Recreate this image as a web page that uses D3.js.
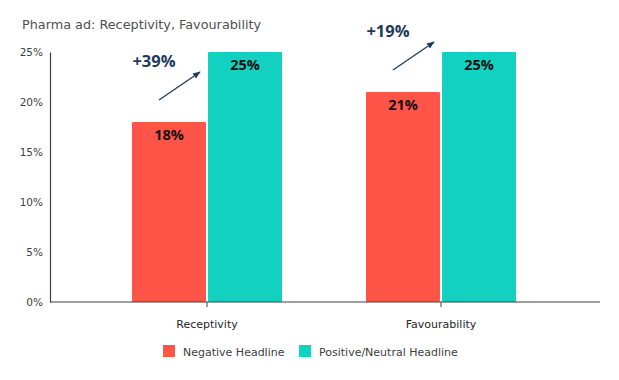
<!DOCTYPE html>
<html>
<head>
<meta charset="utf-8">
<script src="https://cdn.jsdelivr.net/npm/d3@7"></script>
<style>
  body { margin: 0; background: #fff; }
  text { font-family: "DejaVu Sans", Verdana, sans-serif; }
</style>
</head>
<body>
<div id="chart"></div>
<script>
const categories = ["Receptivity", "Favourability"];
const seriesNames = ["Negative Headline", "Positive/Neutral Headline"];
const negativeValues = [18, 21];
const positiveValues = [25, 25];
const upliftLabels = ["+39%", "+19%"];
const yTicks = [0, 5, 10, 15, 20, 25];
const colors = ["#FF5549", "#12D1C1"];

const width = 619, height = 380;
const svg = d3.select("#chart").append("svg")
    .attr("width", width)
    .attr("height", height);

// Title
svg.append("text")
    .attr("x", 22)
    .attr("y", 29)
    .attr("fill", "#505050")
    .style("font-size", "12.8px")
    .text("Pharma ad: Receptivity, Favourability");

const x0 = d3.scaleBand().domain(categories).range([90, 558]);
const x1 = d3.scaleBand().domain(seriesNames).range([42, 192]).paddingInner(0.027);
const y = d3.scaleLinear().domain([0, 25]).range([302, 52]);

const data = categories.map((c, i) => ({
    cat: c,
    values: [negativeValues[i], positiveValues[i]],
    uplift: upliftLabels[i]
}));

// Y axis
const yAxis = svg.append("g")
    .attr("transform", "translate(50,0)")
    .call(d3.axisLeft(y).tickValues(yTicks).tickSize(0).tickPadding(7).tickFormat(d => d + "%"));
yAxis.select(".domain").attr("stroke", "#404040").attr("stroke-width", 1.2);
yAxis.selectAll("text").attr("fill", "#404040").style("font-size", "10.5px").style("font-family", "'DejaVu Sans', sans-serif");

// Bars
const groups = svg.selectAll(".cat")
    .data(data)
    .enter().append("g")
        .attr("class", "cat")
        .attr("transform", d => `translate(${x0(d.cat)},0)`);

groups.selectAll("rect")
    .data(d => d.values.map((v, j) => ({ s: seriesNames[j], v: v, j: j })))
    .enter().append("rect")
        .attr("x", d => x1(d.s))
        .attr("width", x1.bandwidth())
        .attr("y", d => y(d.v))
        .attr("height", d => y(0) - y(d.v))
        .attr("rx", 1)
        .attr("fill", d => colors[d.j]);

groups.selectAll(".val")
    .data(d => d.values.map((v, j) => ({ s: seriesNames[j], v: v })))
    .enter().append("text")
        .attr("class", "val")
        .attr("x", d => x1(d.s) + x1.bandwidth() / 2)
        .attr("y", d => y(d.v) + 18)
        .attr("text-anchor", "middle")
        .attr("fill", "#111")
        .style("font-family", "'Open Sans', sans-serif")
        .style("font-size", "14.5px")
        .style("font-weight", "bold")
        .text(d => d.v + "%");

// X axis line
svg.append("line")
    .attr("x1", 50).attr("x2", 600)
    .attr("y1", y(0)).attr("y2", y(0))
    .attr("stroke", "#404040").attr("stroke-width", 1.2);

const xAxis = svg.append("g")
    .attr("transform", `translate(0,${y(0)})`)
    .call(d3.axisBottom(x0).tickSize(5).tickPadding(13));
xAxis.select(".domain").remove();
xAxis.selectAll("line").attr("stroke", "#404040");
xAxis.selectAll("text").attr("fill", "#262626").style("font-size", "11px").style("font-family", "'DejaVu Sans', sans-serif");

// Uplift arrows
svg.append("defs").append("marker")
    .attr("id", "arrow")
    .attr("viewBox", "0 0 10 10")
    .attr("refX", 9).attr("refY", 5)
    .attr("markerWidth", 6).attr("markerHeight", 6)
    .attr("orient", "auto")
  .append("path")
    .attr("d", "M0,1 L10,5 L0,9 z")
    .attr("fill", "#1F3B5A");

groups.append("line")
    .attr("x1", d => x1(seriesNames[0]) + 27)
    .attr("y1", d => y(d.values[0]) - 22)
    .attr("x2", d => x1(seriesNames[1]) - 8)
    .attr("y2", d => y(d.values[0]) - 50)
    .attr("stroke", "#1F3B5A")
    .attr("stroke-width", 1.3)
    .attr("marker-end", "url(#arrow)");

groups.append("text")
    .attr("x", d => x1(seriesNames[0]) + 22)
    .attr("y", d => y(d.values[0]) - 55)
    .attr("text-anchor", "middle")
    .attr("fill", "#1F3B5A")
    .style("font-family", "'Open Sans', sans-serif")
    .style("font-size", "16.5px")
    .style("font-weight", "bold")
    .text(d => d.uplift);

// Legend
const legend = svg.append("g").attr("transform", "translate(163,345)");
const legendX = [0, 136];
seriesNames.forEach((s, i) => {
    legend.append("rect")
        .attr("x", legendX[i]).attr("y", 0)
        .attr("width", 12).attr("height", 12)
        .attr("fill", colors[i]);
    legend.append("text")
        .attr("x", legendX[i] + 20).attr("y", 10.5)
        .attr("fill", "#404040")
        .style("font-size", "11px")
        .text(s);
});
</script>
</body>
</html>
